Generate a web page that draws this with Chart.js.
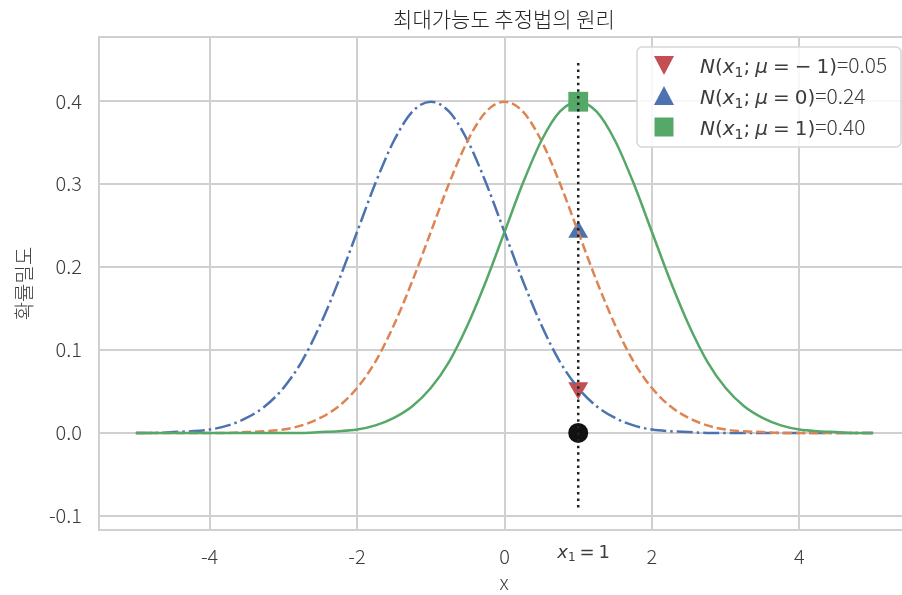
<!DOCTYPE html>
<html>
<head>
<meta charset="utf-8">
<script src="https://cdn.jsdelivr.net/npm/chart.js@4.4.0/dist/chart.umd.min.js"></script>
<style>
html, body { margin: 0; padding: 0; overflow: hidden; background: #fff; }
</style>
</head>
<body>
<canvas id="mleChart" width="924" height="595"></canvas>
<script>
// x grid and the three normal pdf curves
var xs = [-5, -4.75, -4.5, -4.25, -4, -3.75, -3.5, -3.25, -3, -2.75, -2.5, -2.25, -2, -1.75, -1.5, -1.25, -1,
          -0.75, -0.5, -0.25, 0, 0.25, 0.5, 0.75, 1, 1.25, 1.5, 1.75, 2, 2.25, 2.5, 2.75, 3, 3.25, 3.5, 3.75, 4,
          4.25, 4.5, 4.75, 5];
var pdfMuM1 = [0, 0, 0.001, 0.002, 0.004, 0.009, 0.018, 0.032, 0.054, 0.086, 0.130, 0.183, 0.242, 0.301, 0.352, 0.387, 0.399,
               0.387, 0.352, 0.301, 0.242, 0.183, 0.130, 0.086, 0.054, 0.032, 0.018, 0.009, 0.004, 0.002, 0.001, 0, 0,
               0, 0, 0, 0, 0, 0, 0, 0];
var pdfMu0 = [0, 0, 0, 0, 0, 0, 0.001, 0.002, 0.004, 0.009, 0.018, 0.032, 0.054, 0.086, 0.130, 0.183, 0.242,
              0.301, 0.352, 0.387, 0.399, 0.387, 0.352, 0.301, 0.242, 0.183, 0.130, 0.086, 0.054, 0.032, 0.018, 0.009, 0.004,
              0.002, 0.001, 0, 0, 0, 0, 0, 0];
var pdfMu1 = [0, 0, 0, 0, 0, 0, 0, 0, 0, 0, 0.001, 0.002, 0.004, 0.009, 0.018, 0.032, 0.054,
              0.086, 0.130, 0.183, 0.242, 0.301, 0.352, 0.387, 0.399, 0.387, 0.352, 0.301, 0.242, 0.183, 0.130, 0.086, 0.054,
              0.032, 0.018, 0.009, 0.004, 0.002, 0.001, 0, 0];

// the sample point and the likelihood of each mu
var x1 = 1;
var mus = [-1, 0, 1];
var likelihoods = [0.054, 0.242, 0.399];
var vlineY = [-0.09, 0.45];

var xTicks = [-4, -2, 0, 2, 4];
var yTicks = [-0.1, 0, 0.1, 0.2, 0.3, 0.4];

var blue = "#4C72B0", orange = "#DD8452", green = "#55A868", red = "#C44E52";
var gridColor = "#d0d0d0";
var textColor = "#3c3c3c";
var krFont = "'Noto Sans CJK KR', 'Noto Sans', sans-serif";
var mathFont = "'DejaVu Sans', sans-serif";

function curve(ys) {
    return xs.map(function (x, i) { return { x: x, y: ys[i] }; });
}

// draws a row of text pieces with different fonts, left to right
function drawPieces(ctx, pieces, x, y) {
    var cx = x;
    pieces.forEach(function (p) {
        ctx.font = p.f;
        ctx.fillText(p.t, cx, y + (p.dy || 0));
        cx += ctx.measureText(p.t).width + (p.gap || 0);
    });
    return cx;
}

function markerPath(ctx, style, x, y) {
    ctx.beginPath();
    if (style === "down") {
        ctx.moveTo(x - 10, y - 9); ctx.lineTo(x + 10, y - 9); ctx.lineTo(x, y + 10);
    } else if (style === "up") {
        ctx.moveTo(x - 10, y + 9); ctx.lineTo(x + 10, y + 9); ctx.lineTo(x, y - 10);
    } else {
        ctx.rect(x - 9.5, y - 9.5, 19, 19);
    }
    ctx.closePath();
}

var decor = {
    id: "decor",
    beforeDatasetsDraw: function (chart) {
        var ctx = chart.ctx, a = chart.chartArea;
        ctx.save();
        ctx.strokeStyle = gridColor;
        ctx.lineWidth = 2;
        ctx.strokeRect(a.left, a.top, a.right - a.left, a.bottom - a.top);
        ctx.restore();
    },
    afterDraw: function (chart) {
        var ctx = chart.ctx, a = chart.chartArea;
        var sx = chart.scales.x;
        ctx.save();
        ctx.fillStyle = "#262626";
        ctx.textBaseline = "alphabetic";

        // title
        ctx.textAlign = "center";
        ctx.font = "300 21px " + krFont;
        ctx.fillText("최대가능도 추정법의 원리", 504, 27);

        // axis labels
        ctx.fillStyle = textColor;
        ctx.font = "300 20px " + krFont;
        ctx.fillText("x", 504, 590);
        ctx.save();
        ctx.translate(32, (a.top + a.bottom) / 2);
        ctx.rotate(-Math.PI / 2);
        ctx.fillText("확률밀도", 0, 0);
        ctx.restore();

        // x1 = 1 label under the axis
        ctx.textAlign = "left";
        var px = sx.getPixelForValue(x1);
        drawPieces(ctx, [
            { t: "x", f: "italic 18px " + mathFont },
            { t: "1", f: "12px " + mathFont, dy: 3, gap: 4 },
            { t: "=", f: "18px " + mathFont, gap: 4 },
            { t: "1", f: "18px " + mathFont }
        ], px - 21, 558);

        // legend
        var bx = 637, by = 47, bw = 264, bh = 100;
        ctx.beginPath();
        ctx.roundRect(bx, by, bw, bh, 5);
        ctx.fillStyle = "rgba(255,255,255,0.85)";
        ctx.fill();
        ctx.strokeStyle = "#d6d6d6";
        ctx.lineWidth = 1.5;
        ctx.stroke();

        var styles = ["down", "up", "square"];
        var colors = [red, blue, green];
        var baselines = [73, 104, 135];
        mus.forEach(function (m, i) {
            var cy = baselines[i] - 8;
            markerPath(ctx, styles[i], 664, cy);
            ctx.fillStyle = colors[i];
            ctx.fill();

            ctx.fillStyle = textColor;
            var it = "italic 20px " + mathFont, rm = "20px " + mathFont;
            var pieces = [
                { t: "N", f: it },
                { t: "(", f: rm },
                { t: "x", f: it },
                { t: "1", f: "14px " + mathFont, dy: 4 },
                { t: ";", f: rm, gap: 5 },
                { t: "μ", f: it, gap: 5 },
                { t: "=", f: rm, gap: 5 }
            ];
            if (m < 0) {
                pieces.push({ t: "−", f: rm, gap: 5 });
                pieces.push({ t: String(-m), f: rm });
            } else {
                pieces.push({ t: String(m), f: rm });
            }
            pieces.push({ t: ")", f: rm });
            pieces.push({ t: "=" + likelihoods[i].toFixed(2), f: "300 21px " + krFont });
            drawPieces(ctx, pieces, 700, baselines[i]);
        });
        ctx.restore();
    }
};

var ctx = document.getElementById("mleChart");
var mleChart = new Chart(ctx, {
    type: "scatter",
    data: {
        datasets: [
            {
                data: [{ x: x1, y: vlineY[0] }, { x: x1, y: vlineY[1] }],
                showLine: true, borderColor: "#222", borderWidth: 2.5, borderDash: [2.5, 4.1],
                pointRadius: 0, order: 0
            },
            {
                data: curve(pdfMu1), showLine: true, borderColor: green, borderWidth: 2.5,
                pointRadius: 0, cubicInterpolationMode: "monotone", order: 1
            },
            {
                data: curve(pdfMu0), showLine: true, borderColor: orange, borderWidth: 2.5, borderDash: [9.25, 4],
                pointRadius: 0, cubicInterpolationMode: "monotone", order: 2
            },
            {
                data: curve(pdfMuM1), showLine: true, borderColor: blue, borderWidth: 2.5, borderDash: [16, 4, 2.5, 4],
                pointRadius: 0, cubicInterpolationMode: "monotone", order: 3
            },
            {
                data: [{ x: x1, y: likelihoods[0] }], pointStyle: "triangle", rotation: 180, pointRadius: 11.5,
                backgroundColor: red, borderWidth: 0, order: 5
            },
            {
                data: [{ x: x1, y: likelihoods[1] }], pointStyle: "triangle", pointRadius: 11.5,
                backgroundColor: blue, borderWidth: 0, order: 5
            },
            {
                data: [{ x: x1, y: likelihoods[2] }], pointStyle: "rect", pointRadius: 14,
                backgroundColor: green, borderWidth: 0, order: 5
            },
            {
                data: [{ x: x1, y: 0 }], pointStyle: "circle", pointRadius: 10,
                backgroundColor: "#111", borderWidth: 0, order: 5
            }
        ]
    },
    options: {
        responsive: false,
        animation: false,
        layout: { padding: { top: 37, right: 10, left: 0, bottom: 0 } },
        plugins: {
            legend: { display: false },
            tooltip: { enabled: false }
        },
        scales: {
            x: {
                type: "linear", min: -5.5, max: 5.5,
                afterBuildTicks: function (s) { s.ticks = xTicks.map(function (v) { return { value: v }; }); },
                afterFit: function (s) { s.height = 65; s.paddingLeft = 0; s.paddingRight = 0; },
                grid: { color: gridColor, lineWidth: 2, drawTicks: false },
                border: { color: gridColor, width: 2 },
                ticks: { padding: 14, color: textColor, font: { size: 20, family: krFont, weight: 300 },
                         callback: function (v) { return String(v); } }
            },
            y: {
                type: "linear", min: -0.117, max: 0.477,
                afterBuildTicks: function (s) { s.ticks = yTicks.map(function (v) { return { value: v }; }); },
                afterFit: function (s) { s.width = 99; s.paddingTop = 0; s.paddingBottom = 0; },
                grid: { color: gridColor, lineWidth: 2, drawTicks: false },
                border: { color: gridColor, width: 2 },
                ticks: { padding: 17, color: textColor, font: { size: 20, family: krFont, weight: 300 },
                         callback: function (v) { return v.toFixed(1); } }
            }
        }
    },
    plugins: [decor]
});
</script>
</body>
</html>
